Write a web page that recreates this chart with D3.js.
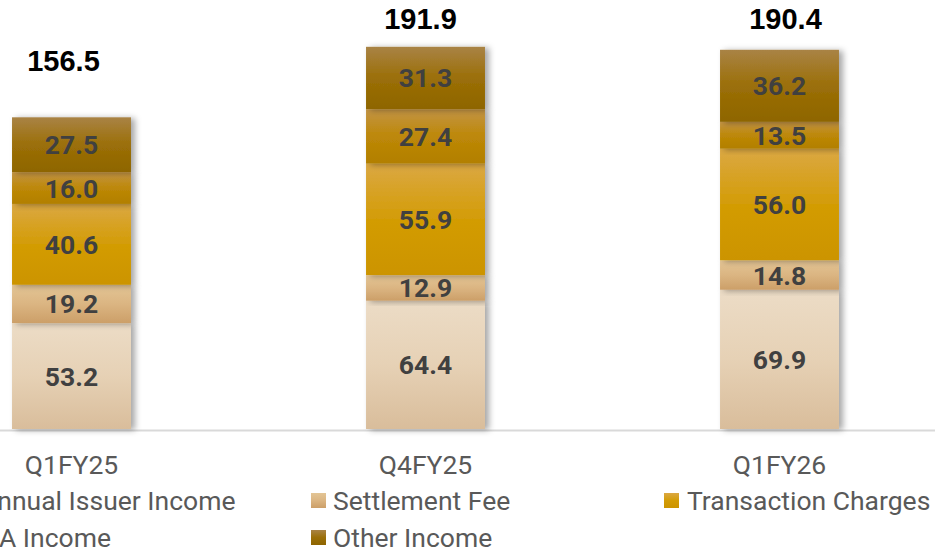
<!DOCTYPE html>
<html>
<head>
<meta charset="utf-8">
<script src="https://cdn.jsdelivr.net/npm/d3@7"></script>
<style>
  html, body { margin: 0; padding: 0; background: #ffffff; overflow: hidden; }
  svg { display: block; }
</style>
</head>
<body>
<svg id="chart" width="935" height="553"></svg>
<script>
// ---- Data ----
const categories = ["Q1FY25", "Q4FY25", "Q1FY26"];
const seriesNames = ["Annual Issuer Income", "Settlement Fee", "Transaction Charges", "A Income", "Other Income"];
const annualIssuer = [53.2, 64.4, 69.9];
const settlementFee = [19.2, 12.9, 14.8];
const transactionCharges = [40.6, 55.9, 56.0];
const aIncome = [16.0, 27.4, 13.5];
const otherIncome = [27.5, 31.3, 36.2];
const totals = [156.5, 191.9, 190.4];

// ---- Styles ----
const palette = [
  { top: "#ecdcc6", mid: "#e6d1b5", bot: "#d9bd9b" }, // Annual Issuer
  { top: "#e3c595", mid: "#dbb582", bot: "#cc9f68" }, // Settlement Fee
  { top: "#dba843", mid: "#d39c06", bot: "#cc9400" }, // Transaction Charges
  { top: "#c39445", mid: "#bd8808", bot: "#b27f00" }, // A Income
  { top: "#a98345", mid: "#9b6f08", bot: "#8e6500" }  // Other Income
];

const svg = d3.select("#chart");
const defs = svg.append("defs");

palette.forEach((p, i) => {
  const g = defs.append("linearGradient").attr("id", "grad" + i)
    .attr("x1", 0).attr("y1", 0).attr("x2", 0).attr("y2", 1);
  g.append("stop").attr("offset", "0%").attr("stop-color", p.top);
  g.append("stop").attr("offset", "50%").attr("stop-color", p.mid);
  g.append("stop").attr("offset", "100%").attr("stop-color", p.bot);
});
const f = defs.append("filter").attr("id", "shadow")
  .attr("x", "-20%").attr("y", "-20%").attr("width", "150%").attr("height", "140%");
f.append("feDropShadow").attr("dx", 4).attr("dy", 1).attr("stdDeviation", 3)
  .attr("flood-color", "#000").attr("flood-opacity", 0.35);

// ---- Scales ----
const x = d3.scaleBand().domain(categories)
  .range([-105.5, 956.5]).paddingInner(0.664).paddingOuter(0.332);
const y = d3.scaleLinear().domain([0, 215.4]).range([429, 0]);

// ---- Stack ----
const rows = categories.map((c, i) => ({
  cat: c,
  s0: annualIssuer[i], s1: settlementFee[i], s2: transactionCharges[i], s3: aIncome[i], s4: otherIncome[i]
}));
const stack = d3.stack().keys(["s0", "s1", "s2", "s3", "s4"]);
const layers = stack(rows);

// ---- Baseline ----
svg.append("line").attr("x1", 0).attr("x2", 935)
  .attr("y1", y(0) + 1.5).attr("y2", y(0) + 1.5)
  .attr("stroke", "#d9d9d9").attr("stroke-width", 2);

// ---- Bars ----
const barG = svg.append("g");
layers.forEach((layer, li) => {
  const g = barG.append("g");
  g.selectAll("rect").data(layer).join("rect")
    .attr("x", d => x(d.data.cat))
    .attr("width", x.bandwidth())
    .attr("y", d => y(d[1]))
    .attr("height", d => y(d[0]) - y(d[1]))
    .attr("fill", "url(#grad" + li + ")")
    .attr("filter", "url(#shadow)");
});
// segment labels
layers.forEach((layer, li) => {
  svg.append("g").selectAll("text").data(layer).join("text")
    .attr("x", d => x(d.data.cat) + x.bandwidth() / 2)
    .attr("y", d => (y(d[0]) + y(d[1])) / 2)
    .attr("text-anchor", "middle")
    .attr("dominant-baseline", "central")
    .attr("font-family", "Roboto, sans-serif")
    .attr("font-weight", "bold")
    .attr("font-size", 26.5)
    .attr("fill", "#404040")
    .text(d => (d[1] - d[0]).toFixed(1));
});

// totals (manually placed annotation boxes in the original)
const totalDx = [-8, -5, 6];
const totalDy = [-56, -28, -31];
svg.append("g").selectAll("text").data(totals).join("text")
  .attr("x", (d, i) => x(categories[i]) + x.bandwidth() / 2 + totalDx[i])
  .attr("y", (d, i) => y(d) + totalDy[i])
  .attr("text-anchor", "middle")
  .attr("dominant-baseline", "central")
  .attr("font-family", "'Liberation Sans', Arial, sans-serif")
  .attr("font-weight", "bold")
  .attr("font-size", 29)
  .attr("fill", "#000")
  .text(d => d.toFixed(1));

// ---- X axis labels ----
svg.append("g").selectAll("text").data(categories).join("text")
  .attr("x", d => x(d) + x.bandwidth() / 2)
  .attr("y", 464)
  .attr("text-anchor", "middle")
  .attr("dominant-baseline", "central")
  .attr("font-family", "Roboto, sans-serif")
  .attr("font-size", 26.5)
  .attr("fill", "#595959")
  .text(d => d);

// ---- Legend ----
const legendPos = [
  { sx: -42, tx: -20, ty: 500 },
  { sx: 311, tx: 333, ty: 500 },
  { sx: 664, tx: 687, ty: 500 },
  { sx: -42, tx: -1, ty: 537 },
  { sx: 311, tx: 333, ty: 537 }
];
const lg = svg.append("g");
seriesNames.forEach((name, i) => {
  const p = legendPos[i];
  lg.append("rect").attr("x", p.sx).attr("y", p.ty - 7).attr("width", 15).attr("height", 15)
    .attr("fill", "url(#grad" + i + ")");
  lg.append("text").attr("x", p.tx).attr("y", p.ty)
    .attr("dominant-baseline", "central")
    .attr("font-family", "Roboto, sans-serif")
    .attr("font-size", 26.5)
    .attr("fill", "#595959")
    .text(name);
});
</script>
</body>
</html>
